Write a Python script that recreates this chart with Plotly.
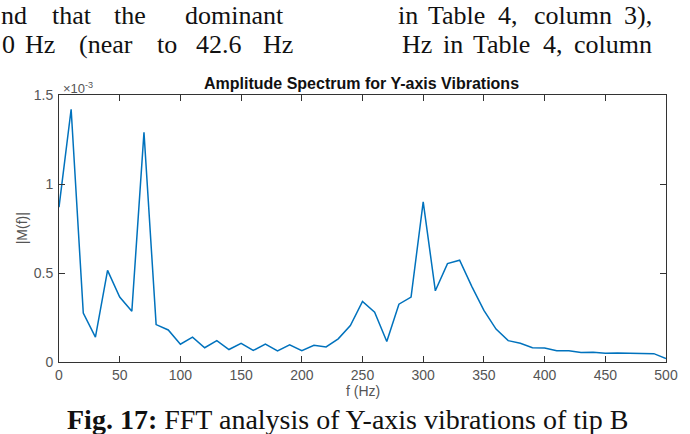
import plotly.graph_objects as go

# Frequency bins (Hz)
freq_hz = [0, 10, 20, 30, 40, 50, 60, 70, 80, 90,
           100, 110, 120, 130, 140, 150, 160, 170, 180, 190,
           200, 210, 220, 230, 240, 250, 260, 270, 280, 290,
           300, 310, 320, 330, 340, 350, 360, 370, 380, 390,
           400, 410, 420, 430, 440, 450, 460, 470, 480, 490, 500]

# |M(f)| in units of 1e-3
amplitude_e3 = [0.87, 1.42, 0.275, 0.14, 0.515, 0.365, 0.285, 1.29, 0.21, 0.18,
                0.10, 0.14, 0.08, 0.12, 0.07, 0.105, 0.065, 0.10, 0.062, 0.096,
                0.064, 0.094, 0.085, 0.13, 0.205, 0.34, 0.28, 0.115, 0.325, 0.365,
                0.90, 0.40, 0.553, 0.572, 0.425, 0.29, 0.185, 0.12, 0.105, 0.08,
                0.078, 0.063, 0.063, 0.053, 0.055, 0.049, 0.05, 0.047, 0.048, 0.047, 0.02]

x_ticks = [0, 50, 100, 150, 200, 250, 300, 350, 400, 450, 500]
y_ticks = [0, 0.5, 1, 1.5]
y_tick_text = ["0", "0.5", "1", "1.5"]

title_text = "Amplitude Spectrum for Y-axis Vibrations"
x_title = "f (Hz)"
y_title = "|M(f)|"
caption = "<b>Fig. 17:</b> FFT analysis of Y-axis vibrations of tip B"

W, H = 690, 434
L, R, T, B = 59, 19, 95, 72
PW, PH = W - L - R, H - T - B


def px(x):
    return (x - L) / PW


def py(y):
    return (H - B - y) / PH


fig = go.Figure()
fig.add_trace(go.Scatter(x=freq_hz, y=amplitude_e3, mode="lines",
                         line=dict(color="#0072BD", width=1.5),
                         showlegend=False))

axis_common = dict(showgrid=False, zeroline=False, showline=True,
                   linecolor="#333333", linewidth=1, mirror="ticks",
                   ticks="inside", ticklen=6, tickcolor="#333333",
                   tickfont=dict(family="Liberation Sans, Arial", size=14, color="#555555"))

fig.update_xaxes(range=[0, 500], tickvals=x_ticks, **axis_common)
fig.update_yaxes(range=[0, 1.5], tickvals=y_ticks, ticktext=y_tick_text,
                 ticklabelstandoff=2, **axis_common)

serif = dict(family="Liberation Serif, Times New Roman, serif", size=26, color="#111111")
ann = []

# top body text (word positions)
line1 = [("nd", 0, "left"), ("that", 72, "center"), ("the", 131, "center"),
         ("dominant", 236, "center"), ("in", 411, "center"), ("Table", 460, "center"),
         ("4,", 512, "center"), ("column", 577, "center"), ("3),", 628, "left")]
line2 = [("0", 8, "center"), ("Hz", 40, "center"), ("(near", 106, "center"),
         ("to", 168, "center"), ("42.6", 220, "center"), ("Hz", 280, "center"),
         ("Hz", 420, "center"), ("in", 456, "center"), ("Table", 505, "center"),
         ("4,", 557, "center"), ("column", 577, "left")]
for words, yc in ((line1, 15.5), (line2, 44.5)):
    for w, xc, anc in words:
        ann.append(dict(text=w, x=px(xc), y=py(yc), xref="paper", yref="paper",
                        xanchor=anc, yanchor="middle", borderpad=0,
                        showarrow=False, font=serif))

# chart title
ann.append(dict(text="<b>" + title_text + "</b>", x=px(364), y=py(84), xref="paper", yref="paper",
                xanchor="center", yanchor="middle", showarrow=False,
                font=dict(family="Liberation Sans, Arial", size=16, color="#111111")))
# exponent label
ann.append(dict(text="\u00d710<sup>-3</sup>", x=px(61), y=py(88), xref="paper", yref="paper",
                xanchor="left", yanchor="middle", showarrow=False,
                font=dict(family="Liberation Sans, Arial", size=13, color="#555555")))
# axis titles
ann.append(dict(text=x_title, x=px(365), y=py(391), xref="paper", yref="paper",
                xanchor="center", yanchor="middle", showarrow=False,
                font=dict(family="Liberation Sans, Arial", size=14, color="#555555")))
ann.append(dict(text=y_title, x=px(22), y=py(228), xref="paper", yref="paper",
                xanchor="center", yanchor="middle", showarrow=False, textangle=-90,
                font=dict(family="Liberation Sans, Arial", size=14, color="#555555")))
# caption
ann.append(dict(text=caption, x=px(350), y=py(419), xref="paper", yref="paper",
                xanchor="center", yanchor="middle", showarrow=False,
                font=dict(family="Liberation Serif, Times New Roman, serif", size=28, color="#111111")))

fig.update_layout(width=W, height=H, margin=dict(l=L, r=R, t=T, b=B),
                  paper_bgcolor="white", plot_bgcolor="white",
                  annotations=ann)

fig.write_html("out.html")
